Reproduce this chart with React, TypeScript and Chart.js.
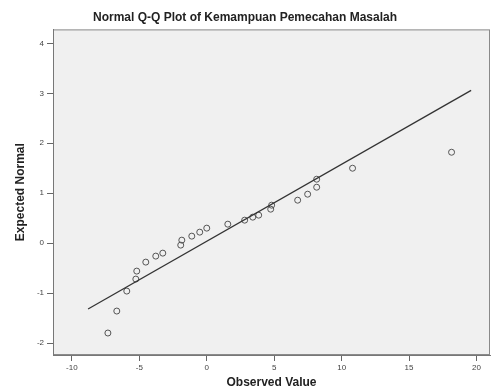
import React, { useEffect, useRef } from "react";
import { Chart, registerables } from "chart.js";

Chart.register(...registerables);

const observedValues = [-7.33, -6.67, -5.93, -5.26, -5.19, -4.52, -3.78, -3.26, -1.93, -1.85, -1.11, -0.52, 0.0, 1.56, 2.81, 3.41, 3.85, 4.74, 4.81, 6.74, 7.48, 8.15, 8.15, 10.81, 18.15];
const expectedNormal = [-1.8, -1.36, -0.96, -0.72, -0.56, -0.38, -0.26, -0.2, -0.04, 0.06, 0.14, 0.22, 0.3, 0.38, 0.46, 0.52, 0.56, 0.68, 0.76, 0.86, 0.98, 1.12, 1.28, 1.5, 1.82];
const refLineX = [-8.8, 19.6];
const refLineY = [-1.32, 3.06];
const xTickValues = [-10, -5, 0, 5, 10, 15, 20];
const yTickValues = [-2, -1, 0, 1, 2, 3, 4];

const FONT = "'Liberation Sans', Arial, sans-serif";

export default function App() {
  const ref = useRef<HTMLCanvasElement | null>(null);
  useEffect(() => {
    document.body.style.margin = "0";
    const canvas = ref.current;
    if (!canvas) return;
    const bgPlugin = {
      id: "bgPlugin",
      beforeDraw(chart: any) {
        const { ctx, chartArea: a } = chart;
        ctx.save();
        ctx.fillStyle = "#ffffff";
        ctx.fillRect(0, 0, chart.width, chart.height);
        ctx.fillStyle = "#f0f0f0";
        ctx.fillRect(a.left, a.top, a.right - a.left, a.bottom - a.top);
        ctx.strokeStyle = "#8a8a8a";
        ctx.lineWidth = 1;
        ctx.strokeRect(a.left + 0.5, a.top + 0.5, a.right - a.left - 1, a.bottom - a.top - 1);
        ctx.restore();
      },
    };
    const chart = new Chart(canvas, {
      type: "scatter",
      data: {
        datasets: [
          {
            type: "line",
            data: refLineX.map((x, i) => ({ x, y: refLineY[i] })),
            borderColor: "#333333",
            borderWidth: 1.3,
            pointRadius: 0,
            fill: false,
          } as any,
          {
            data: observedValues.map((x, i) => ({ x, y: expectedNormal[i] })),
            pointStyle: "circle",
            pointRadius: 3,
            borderColor: "#555555",
            backgroundColor: "rgba(0,0,0,0)",
            borderWidth: 1,
          },
        ],
      },
      options: {
        animation: false,
        responsive: false,
        layout: { padding: { left: 0, right: 7, top: 0, bottom: 0 } },
        plugins: {
          legend: { display: false },
          tooltip: { enabled: false },
          title: {
            display: true,
            text: "Normal Q-Q Plot of Kemampuan Pemecahan Masalah",
            color: "#222",
            font: { family: FONT, size: 12, weight: "bold" },
            padding: { top: 10, bottom: 5 },
          },
        },
        scales: {
          x: {
            type: "linear",
            min: -11.4,
            max: 21,
            afterBuildTicks: (s: any) => {
              s.ticks = xTickValues.map((v) => ({ value: v }));
            },
            afterFit: (s: any) => {
              s.height = 37;
            },
            grid: { display: true, drawOnChartArea: false, drawTicks: true, tickLength: 6, color: "#666" },
            border: { display: true, color: "#777" },
            ticks: { color: "#444", font: { family: FONT, size: 8 }, padding: 2, maxRotation: 0 },
            title: {
              display: true,
              text: "Observed Value",
              color: "#222",
              font: { family: FONT, size: 12, weight: "bold" },
              padding: { top: 2, bottom: 2 },
            },
          },
          y: {
            type: "linear",
            min: -2.24,
            max: 4.28,
            afterBuildTicks: (s: any) => {
              s.ticks = yTickValues.map((v) => ({ value: v }));
            },
            afterFit: (s: any) => {
              s.width = 53;
            },
            grid: { display: true, drawOnChartArea: false, drawTicks: true, tickLength: 6, color: "#666" },
            border: { display: true, color: "#777" },
            ticks: { color: "#444", font: { family: FONT, size: 8 }, padding: 3 },
            title: {
              display: true,
              text: "Expected Normal",
              color: "#222",
              font: { family: FONT, size: 12, weight: "bold" },
              padding: { top: 13, bottom: 2 },
            },
          },
        },
      },
      plugins: [bgPlugin],
    });
    return () => chart.destroy();
  }, []);
  return (
    <div style={{ width: 497, height: 392 }}>
      <canvas ref={ref} width={497} height={392} style={{ display: "block", width: 497, height: 392 }} />
    </div>
  );
}
